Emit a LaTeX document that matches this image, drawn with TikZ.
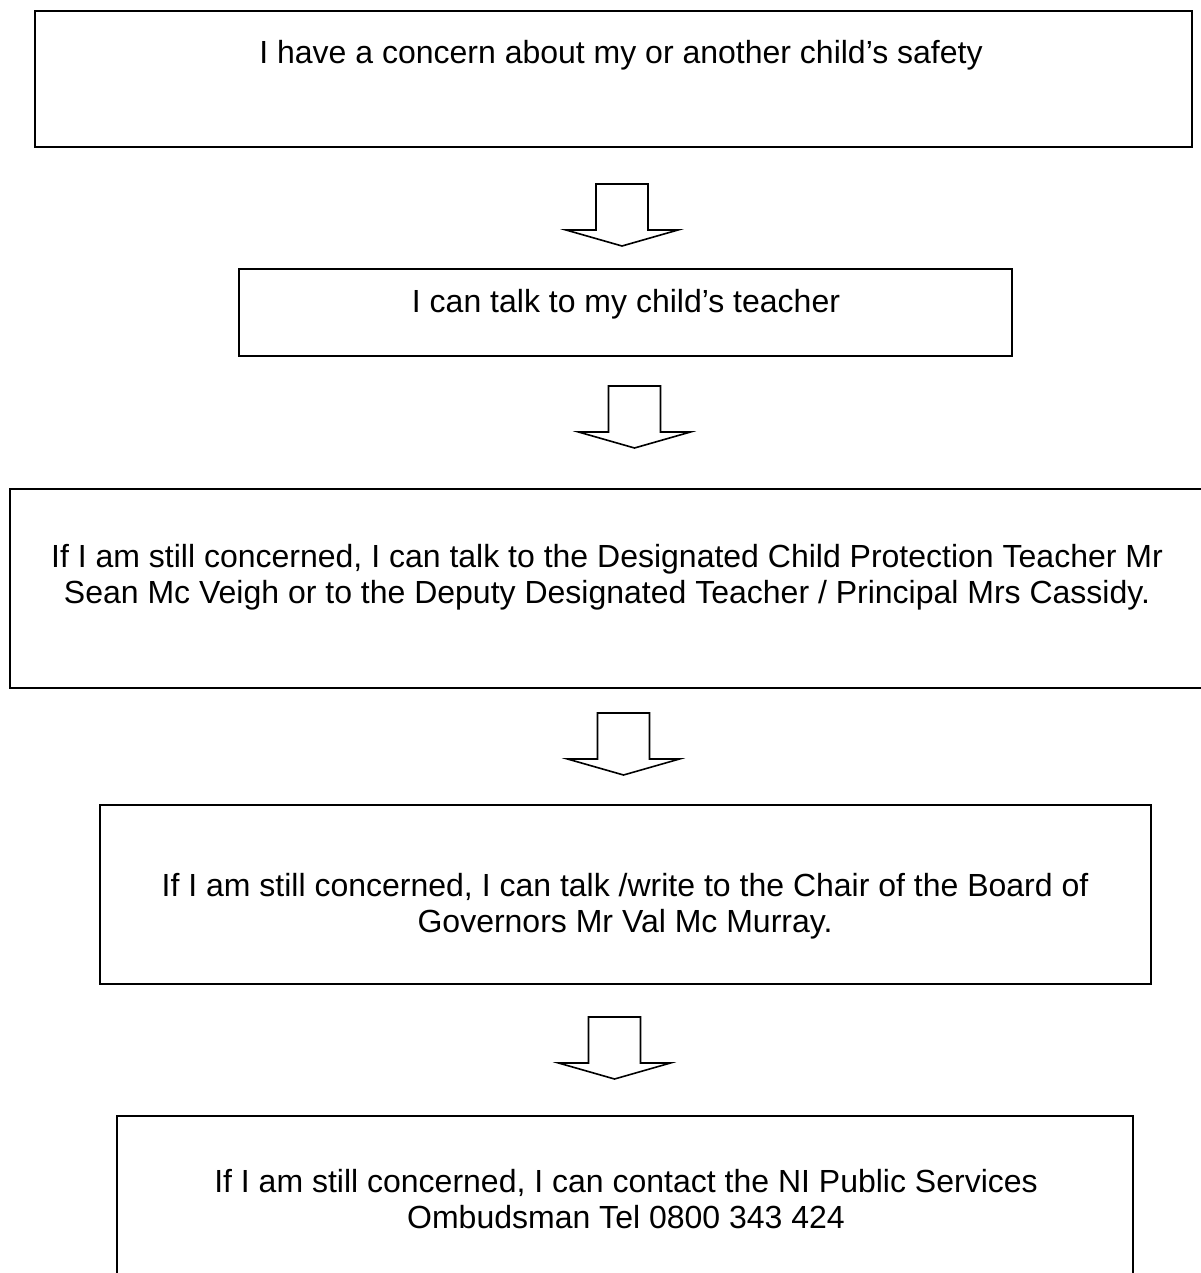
\documentclass[tikz,border=0pt]{standalone}
\usepackage{fontspec}
\setmainfont{Liberation Sans}
\usetikzlibrary{calc}

\begin{document}
\begin{tikzpicture}[x=0.5pt, y=-0.5pt,
  box/.style={rectangle, draw, line width=1pt, inner sep=0pt},
  txt/.style={align=center, inner sep=0pt, font=\fontsize{16}{18}\selectfont},
  downarrow/.pic={\draw[line width=0.8pt, fill=white] (-26,0) -- (-26,46) -- (-56,46) -- (0,62) -- (56,46) -- (26,46) -- (26,0) -- cycle;}
]
  \useasboundingbox (0,0) rectangle (1200,1273);

  \node[box, minimum width=578.5pt, minimum height=68pt] (concern) at (613.5,79) {};
  \node[box, minimum width=386.5pt, minimum height=43.5pt] (teacher) at (625.5,312.5) {};
  \node[box, minimum width=620pt, minimum height=99.5pt] (designated) at (630,588.5) {};
  \node[box, minimum width=525.5pt, minimum height=89.5pt] (governors) at (625.5,894.5) {};
  \node[box, minimum width=508pt, minimum height=142pt] (ombudsman) at (625,1258) {};

  \node[txt] (concerntxt) at (621,55) {I have a concern about my or another child’s safety};
  \node[txt] (teachertxt) at (626,304) {I can talk to my child’s teacher};
  \node[txt] (designatedtxt) at (607,577) {If I am still concerned, I can talk to the Designated Child Protection Teacher Mr\\ Sean Mc Veigh or to the Deputy Designated Teacher / Principal Mrs Cassidy.};
  \node[txt] (governorstxt) at (625,906) {If I am still concerned, I can talk /write to the Chair of the Board of\\ Governors Mr Val Mc Murray.};
  \node[txt] (ombudsmantxt) at (626,1199) {If I am still concerned, I can contact the NI Public Services\\ Ombudsman Tel 0800 343 424};

  \coordinate (arr1) at (622,184);
  \coordinate (arr2) at (634.5,386);
  \coordinate (arr3) at (623.5,713);
  \coordinate (arr4) at (614.5,1017);

  \pic at (arr1) {downarrow};
  \pic at (arr2) {downarrow};
  \pic at (arr3) {downarrow};
  \pic at (arr4) {downarrow};
\end{tikzpicture}
\end{document}
